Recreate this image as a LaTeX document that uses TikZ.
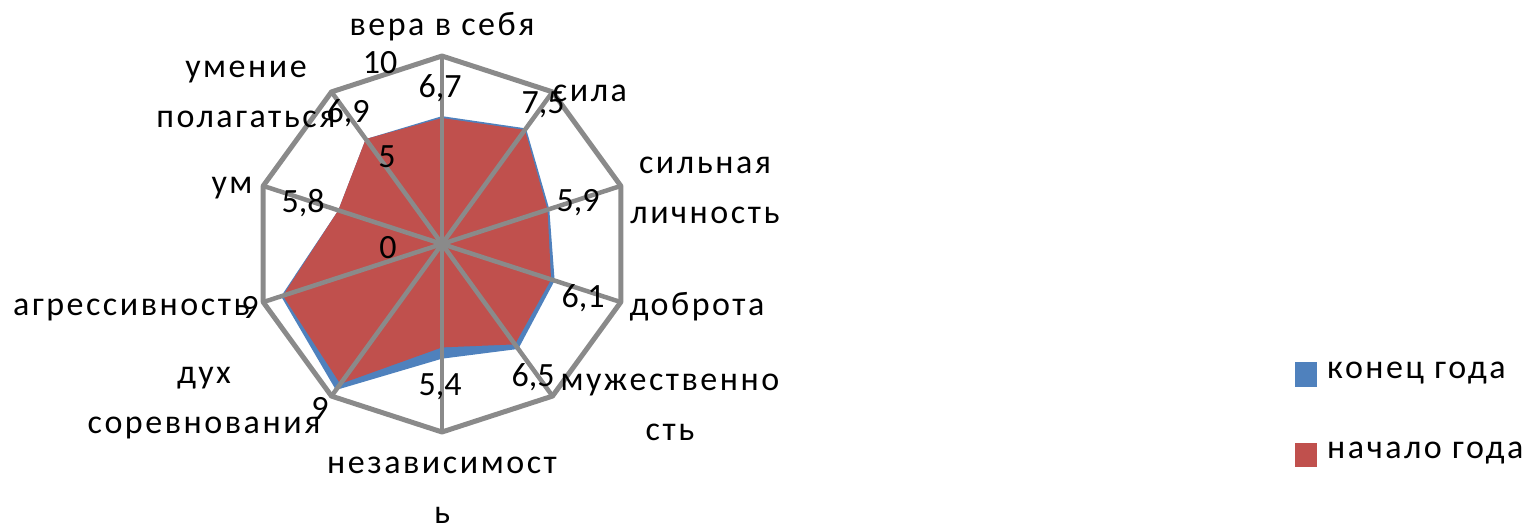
\documentclass[tikz,border=0pt]{standalone}
\usepackage{fontspec}
\setmainfont{Carlito}
\newfontfamily\lblfont[LetterSpace=7.5]{Carlito}
\definecolor{gridgray}{RGB}{138,138,138}
\definecolor{serred}{RGB}{192,80,77}
\definecolor{serblue}{RGB}{79,129,189}
\begin{document}
\begin{tikzpicture}[x=1pt,y=-1pt,
  lbl/.style={font=\lblfont\fontsize{34}{50}\selectfont, inner sep=0pt, align=center},
  num/.style={font=\fontsize{34}{40}\selectfont, inner sep=0pt},
  gridline/.style={draw=gridgray, line width=5pt, line join=round},
  spoke/.style={draw=gridgray, line width=4.5pt}]
\useasboundingbox (0,0) rectangle (1535,530);
\def\cx{442}\def\cy{244}\def\R{18.8}
\coordinate (C) at (\cx,\cy);
% outer vertices
\foreach \i in {0,...,9}{
  \coordinate (v\i) at ({\cx+188*cos(90-36*\i)},{\cy-188*sin(90-36*\i)});
}
\def\bl{{6.8,7.6,6.0,6.3,6.9,6.1,9.6,9.0,5.8,6.9}}
\def\rd{{6.7,7.5,5.9,6.1,6.6,5.5,9.2,8.9,5.8,6.9}}
\foreach \i in {0,...,9}{
  \pgfmathsetmacro{\rb}{\bl[\i]*\R}
  \pgfmathsetmacro{\rr}{\rd[\i]*\R}
  \coordinate (b\i) at ({\cx+\rb*cos(90-36*\i)},{\cy-\rb*sin(90-36*\i)});
  \coordinate (r\i) at ({\cx+\rr*cos(90-36*\i)},{\cy-\rr*sin(90-36*\i)});
}
\fill[serblue] (b0)--(b1)--(b2)--(b3)--(b4)--(b5)--(b6)--(b7)--(b8)--(b9)--cycle;
\fill[serred] (r0)--(r1)--(r2)--(r3)--(r4)--(r5)--(r6)--(r7)--(r8)--(r9)--cycle;
% spokes
\foreach \i in {0,...,9}{ \draw[spoke] (C) -- (v\i); }
\draw[gridline] (v0)--(v1)--(v2)--(v3)--(v4)--(v5)--(v6)--(v7)--(v8)--(v9)--cycle;
% axis labels
\node[lbl] (a0) at (442,27) {вера в себя};
\node[lbl] (a1) at (590,93) {сила};
\node[lbl] (a2) at (705,190) {сильная\\личность};
\node[lbl] (a3) at (697,307) {доброта};
\node[lbl] (a4) at (670,407) {мужественно\\сть};
\node[lbl] (a5) at (442,490) {независимост\\ь};
\node[lbl] (a6) at (204,403) {дух\\соревнования};
\node[lbl,anchor=west] (a7) at (13,310) {агрессивность};
\node[lbl] (a8) at (232,188) {ум};
\node[lbl] (a9) at (246,94) {умение\\полагаться};
% tick labels
\node[num] (t10) at (380,63) {10};
\node[num] (t5) at (387,157) {5};
\node[num] (t0) at (388,248) {0};
% data labels
\node[num] (d0) at (440,88) {6,7};
\node[num] (d1) at (543,105) {7,5};
\node[num] (d2) at (578,203) {5,9};
\node[num] (d3) at (583,298) {6,1};
\node[num] (d4) at (533,377) {6,5};
\node[num] (d5) at (440,387) {5,4};
\node[num] (d6) at (320,408) {9};
\node[num] (d7) at (250,307) {9};
\node[num] (d8) at (303,203) {5,8};
\node[num] (d9) at (348,113) {6,9};
% legend
\fill[serblue] (1295,362) rectangle (1317,387);
\node[lbl,anchor=west] (lg1) at (1327,373) {конец года};
\fill[serred] (1295,443) rectangle (1317,467);
\node[lbl,anchor=west] (lg2) at (1327,453) {начало года};
\end{tikzpicture}
\end{document}
